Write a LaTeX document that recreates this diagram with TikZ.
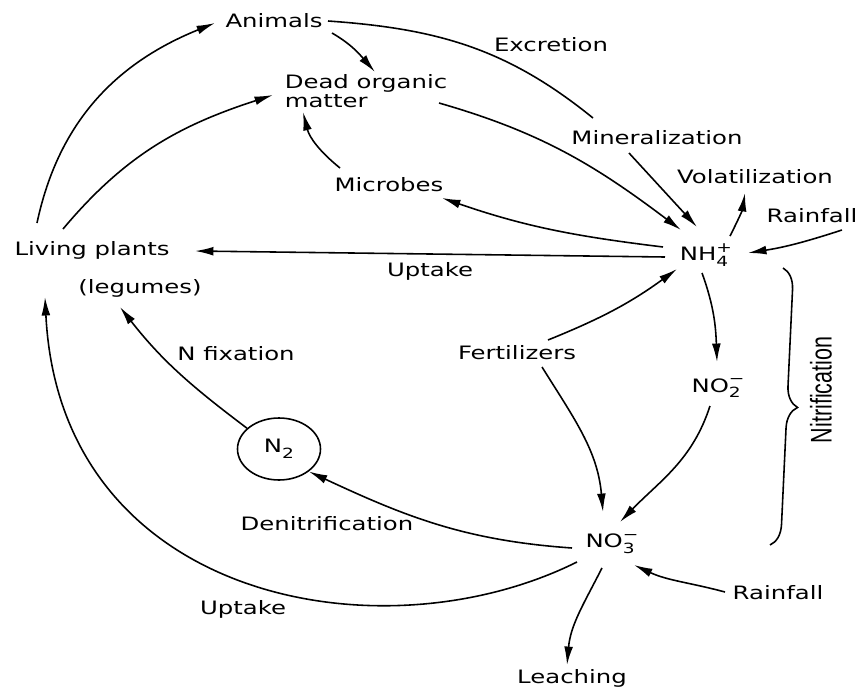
\documentclass[tikz,border=0pt]{standalone}
\usepackage{fontspec}
\setmainfont[FakeStretch=1.32]{DejaVu Sans}
\newfontfamily\condfont[FakeStretch=0.72]{Liberation Sans}
\usetikzlibrary{arrows.meta,shapes.geometric,decorations.pathreplacing}
\newcommand\ionlabel[3]{#1\rlap{\raisebox{-.55ex}{\footnotesize #2}}\raisebox{.85ex}{\footnotesize #3}}
\begin{document}
\begin{tikzpicture}[
    every node/.style={font=\fontsize{10.5}{11}\selectfont, inner sep=1pt},
    flow/.style={line width=0.9pt, -{Latex[length=10.5pt,width=5pt]}},
    link/.style={line width=0.9pt}]
        \useasboundingbox (0,0) rectangle (17.16,-13.82);
        \node (animals) at (5.48,-0.42) {Animals};
        \node[align=left] (dead) at (7.32,-1.82) {Dead organic\\matter};
        \node (microbes) at (7.78,-3.70) {Microbes};
        \node (plants) at (1.84,-5.00) {Living plants};
        \node (legumes) at (2.80,-5.76) {(legumes)};
        \node (nh4) at (14.12,-5.10) {\ionlabel{NH}{4}{+}};
        \node (no2) at (14.36,-7.76) {\ionlabel{NO}{2}{−}};
        \node (no3) at (12.24,-10.88) {\ionlabel{NO}{3}{−}};
        \node[ellipse, draw, line width=0.9pt, minimum width=1.66cm, minimum height=1.24cm]
        (n2) at (5.58,-8.98) {N\raisebox{-.55ex}{\footnotesize 2}};
        \node (fert) at (10.34,-7.06) {Fertilizers};
        \node (rainA) at (16.24,-4.32) {Rainfall};
        \node (rainB) at (15.56,-11.86) {Rainfall};
        \node (volat) at (15.10,-3.54) {Volatilization};
        \node (leach) at (11.44,-13.56) {Leaching};
        \node (excretion) at (11.02,-0.90) {Excretion};
        \node (mineral) at (13.14,-2.76) {Mineralization};
        \node (uptakeA) at (8.60,-5.42) {Uptake};
        \node (nfix) at (4.72,-7.08) {N fixation};
        \node (denit) at (6.54,-10.48) {Denitrification};
        \node (uptakeB) at (4.86,-12.18) {Uptake};
        \node[rotate=90, font=\condfont\fontsize{17}{17}\selectfont] (nitri) at (16.42,-7.80) {Nitrification};
        \coordinate (nitTop) at (15.66,-5.36);
        \coordinate (nitBot) at (15.40,-10.90);
        \draw[link, decorate, decoration={brace, amplitude=12pt}] (nitTop) -- (nitBot);
        \draw[flow] ([shift={(-1.10,0.54)}]plants.center) to[out=78,in=202] ([shift={(-1.18,-0.04)}]animals.center);
        \draw[flow] ([shift={(-0.58,0.42)}]plants.center) to[out=50,in=198] ([shift={(-1.86,-0.08)}]dead.center);
        \draw[flow] ([shift={(1.16,-0.24)}]animals.center) to[out=-30,in=131] ([shift={(0.18,0.38)}]dead.center);
        \draw[link] ([shift={(1.08,0)}]animals.center) to[out=-4,in=141] ([shift={(-1.28,0.40)}]mineral.center);
        \draw[flow] ([shift={(-0.56,-0.30)}]mineral.center) -- ([shift={(-0.18,0.56)}]nh4.center);
        \draw[flow] ([shift={(1.46,-0.24)}]dead.center) to[out=-16,in=143] ([shift={(-0.50,0.50)}]nh4.center);
        \draw[flow] ([shift={(-0.86,0.16)}]nh4.center) to[out=173,in=-19] ([shift={(1.06,-0.26)}]microbes.center);
        \draw[flow] ([shift={(-0.98,0.34)}]microbes.center) to[out=141,in=-76] ([shift={(-1.26,-0.42)}]dead.center);
        \draw[flow] ([shift={(-0.82,-0.04)}]nh4.center) -- ([shift={(2.06,-0.02)}]plants.center);
        \draw[flow] ([shift={(0.48,0.38)}]nh4.center) to[out=63,in=-99] ([shift={(-0.20,-0.32)}]volat.center);
        \draw[flow] ([shift={(0.60,-0.28)}]rainA.center) to[out=198,in=9] ([shift={(0.84,0.04)}]nh4.center);
        \draw[flow] ([shift={(-0.08,-0.36)}]nh4.center) to[out=-70,in=92] ([shift={(-0.02,0.52)}]no2.center);
        \draw[flow] ([shift={(0.62,0.26)}]fert.center) to[out=22,in=-144] ([shift={(-0.58,-0.28)}]nh4.center);
        \draw[flow] ([shift={(0.50,-0.28)}]fert.center) to[out=-58,in=95] ([shift={(-0.18,0.64)}]no3.center);
        \draw[flow] ([shift={(-0.16,-0.36)}]no2.center) to[out=-108,in=46] ([shift={(0.16,0.44)}]no3.center);
        \draw[flow] ([shift={(-0.80,-0.08)}]no3.center) to[out=176,in=-25] (n2.-37);
        \draw[flow] (n2.147) to[out=143,in=-52] ([shift={(-0.40,-0.38)}]legumes.center);
        \draw[flow] ([shift={(-0.70,-0.36)}]no3.center) .. controls +(-3.94,-1.96) and +(0.30,-6.06) ..
        ([shift={(-0.94,-0.94)}]plants.center);
        \draw[flow] ([shift={(-1.06,0.02)}]rainB.center) to[out=165,in=-25] ([shift={(0.44,-0.42)}]no3.center);
        \draw[flow] ([shift={(-0.20,-0.48)}]no3.center) to[out=-117,in=85] ([shift={(-0.10,0.26)}]leach.center);
\end{tikzpicture}
\end{document}
